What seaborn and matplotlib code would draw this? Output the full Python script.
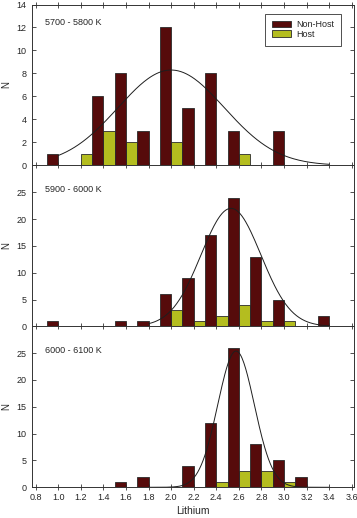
import numpy as np
import pandas as pd
import matplotlib.pyplot as plt
import seaborn as sns
from matplotlib.patches import Patch

# bin centres (Li abundance), bins 0.2 wide: non-host in left half, host in right half
centers = [1.0, 1.2, 1.4, 1.6, 1.8, 2.0, 2.2, 2.4, 2.6, 2.8, 3.0, 3.2, 3.4]
panels = ['5700 - 5800 K', '5900 - 6000 K', '6000 - 6100 K']

nonhost_5700 = [1, 0, 6, 8, 3, 12, 5, 8, 3, 0, 3, 0, 0]
host_5700 = [0, 1, 3, 2, 0, 2, 0, 0, 1, 0, 0, 0, 0]
nonhost_5900 = [1, 0, 0, 1, 1, 6, 9, 17, 24, 13, 5, 0, 2]
host_5900 = [0, 0, 0, 0, 0, 3, 1, 2, 4, 1, 1, 0, 0]
nonhost_6000 = [0, 0, 0, 1, 2, 0, 4, 12, 26, 8, 5, 2, 0]
host_6000 = [0, 0, 0, 0, 0, 0, 0, 1, 3, 3, 1, 0, 0]

# gaussian fit: amplitude, mean, sd, x start, x end
fit_5700 = [8.3, 2.0, 0.47, 1.0, 3.4]
fit_5900 = [22.0, 2.53, 0.265, 1.8, 3.4]
fit_6000 = [25.4, 2.575, 0.162, 1.8, 3.4]

ymax = [14, 30, 30]
yticks = [np.arange(0, 15, 2), np.arange(0, 26, 5), np.arange(0, 26, 5)]

col_non = '#560b0b'
col_host = '#b4bd1f'

rows = []
for p, nh, h in zip(panels, [nonhost_5700, nonhost_5900, nonhost_6000],
                    [host_5700, host_5900, host_6000]):
    for c, a, b in zip(centers, nh, h):
        rows.append({'panel': p, 'group': 'Non-Host', 'pos': c - 0.05, 'N': a})
        rows.append({'panel': p, 'group': 'Host', 'pos': c + 0.05, 'N': b})
df = pd.DataFrame(rows)
edges = [round(v / 10, 1) for v in range(9, 36)]

sns.set_style('ticks')
plt.rcParams['font.family'] = ['Liberation Sans', 'DejaVu Sans']

fig = plt.figure(figsize=(3.57, 5.18), dpi=100)
gs = fig.add_gridspec(3, 1, left=0.0905, right=0.9916, top=0.9913, bottom=0.0593, hspace=0)

text_y = [0.89, 0.85, 0.85]
for i, (p, fit) in enumerate(zip(panels, [fit_5700, fit_5900, fit_6000])):
    ax = fig.add_subplot(gs[i])
    ax.set_facecolor('none')   # so the next panel doesn't cover this baseline
    sub = df[df['panel'] == p]
    sns.histplot(data=sub, x='pos', weights='N', hue='group', bins=edges,
                 palette={'Non-Host': col_non, 'Host': col_host},
                 multiple='layer', alpha=1, edgecolor='#2a2a2a', linewidth=0.6,
                 legend=False, ax=ax)

    amp, mu, sd, x0, x1 = fit
    xs = np.linspace(x0, x1, 200)
    sns.lineplot(x=xs, y=amp * np.exp(-(xs - mu) ** 2 / (2 * sd ** 2)),
                 color='#1e1e1e', lw=0.7, ax=ax)

    ax.set_xlim(0.77, 3.62)
    ax.set_ylim(0, ymax[i])
    ax.set_xticks(np.round(np.arange(0.8, 3.61, 0.2), 1))
    ax.set_yticks(yticks[i])
    for s in ax.spines.values():
        s.set_linewidth(0.7)
        s.set_color('#333333')
        s.set_zorder(5)
    ax.spines['top'].set_visible(i == 0)
    ax.tick_params(axis='x', direction='inout', length=4, width=0.6, color='#333333',
                   top=(i == 0), labelsize=6.5, pad=2, labelbottom=(i == 2))
    ax.tick_params(axis='y', direction='in', length=3, width=0.6, color='#333333',
                   right=True, labelsize=6.5, pad=4)
    ax.set_ylabel('N', fontsize=7)
    ax.yaxis.set_label_coords(-0.066, 0.5)
    if i == 2:
        ax.set_xlabel('Lithium', fontsize=7.5)
        ax.xaxis.set_label_coords(0.5, -0.115)
    else:
        ax.set_xlabel('')
    ax.text(0.04, text_y[i], p, transform=ax.transAxes, fontsize=6.5, va='center')

    if i == 0:
        handles = [Patch(facecolor=col_non, edgecolor='#2a2a2a', lw=0.6),
                   Patch(facecolor=col_host, edgecolor='#2a2a2a', lw=0.6)]
        leg = ax.legend(handles, ['Non-Host', 'Host'], loc='upper right',
                        bbox_to_anchor=(0.96, 0.944), fontsize=6.5, fancybox=False,
                        framealpha=1, edgecolor='#333333', handlelength=2.2,
                        handleheight=0.7, handletextpad=0.55, labelspacing=0.05,
                        borderpad=0.75, borderaxespad=0)
        leg.get_frame().set_linewidth(0.6)

fig.savefig('out.png', dpi=100, facecolor='white')
